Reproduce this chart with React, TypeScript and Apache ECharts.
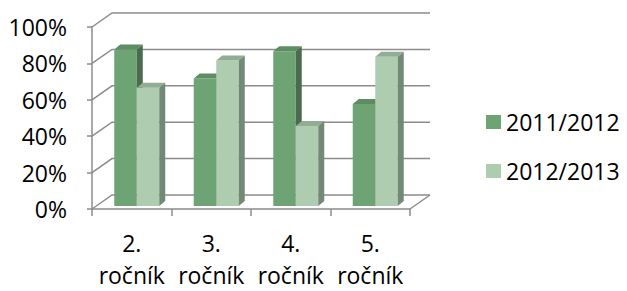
import React, { useEffect, useRef } from "react";
import * as echarts from "echarts";

const categories = ["2.\nročník", "3.\nročník", "4.\nročník", "5.\nročník"];
const seriesNames = ["2011/2012", "2012/2013"];
const values2011 = [0.86, 0.7, 0.85, 0.56];
const values2012 = [0.65, 0.8, 0.44, 0.82];
const yTicks = [0, 0.2, 0.4, 0.6, 0.8, 1];

const FONT = "'Open Sans', 'Liberation Sans', sans-serif";
const GRID_COLOR = "#8c8c8c";
const DEPTH_X = 20;
const DEPTH_Y = -14;

const palettes = [
  { front: "#6ea474", top: "#5e8d63", side: "#4a6b4d" },
  { front: "#aecdb0", top: "#91ad94", side: "#728975" },
];

function makeBarRenderer(idx: number) {
  const pal = palettes[idx];
  return (params: any, api: any) => {
    const ci = api.value(0);
    const v = api.value(1);
    const base = api.coord([ci, 0]);
    const top = api.coord([ci, v]);
    const band = api.size([1, 0])[0];
    const bw = band * 0.283;
    const sx = 5;
    const sy = -3;
    const dx = 6;
    const dy = -5;
    const x0 = idx === 0 ? base[0] + sx - bw : base[0] + sx;
    const y0 = base[1] + sy;
    const y1 = top[1] + sy;
    return {
      type: "group",
      children: [
        {
          type: "rect",
          shape: { x: x0, y: y1, width: bw, height: y0 - y1 },
          style: { fill: pal.front },
        },
        {
          type: "polygon",
          shape: {
            points: [
              [x0, y1],
              [x0 + bw, y1],
              [x0 + bw + dx, y1 + dy],
              [x0 + dx, y1 + dy],
            ],
          },
          style: { fill: pal.top },
        },
        {
          type: "polygon",
          shape: {
            points: [
              [x0 + bw, y1],
              [x0 + bw + dx, y1 + dy],
              [x0 + bw + dx, y0 + dy],
              [x0 + bw, y0],
            ],
          },
          style: { fill: pal.side },
        },
      ],
    };
  };
}

function renderWall(params: any, api: any) {
  const v = api.value(1);
  const p = api.coord([0, v]);
  const cs = params.coordSys;
  const xf = cs.x;
  const w = cs.width;
  const y = p[1];
  const style = { stroke: GRID_COLOR, lineWidth: 1.5, fill: null };
  const children: any[] = [
    {
      type: "polyline",
      shape: {
        points: [
          [xf, y],
          [xf + DEPTH_X, y + DEPTH_Y],
          [xf + w + DEPTH_X, y + DEPTH_Y],
        ],
      },
      style,
    },
  ];
  if (v === 0) {
    children.push({
      type: "line",
      shape: { x1: xf + w, y1: y, x2: xf + w + DEPTH_X, y2: y + DEPTH_Y },
      style,
    });
  }
  return { type: "group", children };
}

export default function App() {
  const ref = useRef<HTMLDivElement>(null);
  useEffect(() => {
    if (!ref.current) return;
    const chart = echarts.init(ref.current, null, { renderer: "svg" });
    chart.setOption({
      animation: false,
      backgroundColor: "#ffffff",
      textStyle: { fontFamily: FONT },
      grid: { left: 92, right: 217, top: 27, bottom: 79 },
      legend: {
        orient: "vertical",
        left: 486,
        top: 108,
        padding: 0,
        itemWidth: 15,
        itemHeight: 14,
        itemGap: 21,
        itemStyle: { borderWidth: 0 },
        icon: "rect",
        data: seriesNames,
        textStyle: {
          fontFamily: FONT,
          fontSize: 23,
          lineHeight: 28,
          color: "#000",
        },
        selectedMode: false,
      },
      xAxis: {
        type: "category",
        data: categories,
        boundaryGap: true,
        axisLine: { show: true, lineStyle: { color: GRID_COLOR, width: 1.5 } },
        axisTick: { show: true, length: 7, lineStyle: { color: GRID_COLOR, width: 1.5 } },
        axisLabel: {
          margin: 18,
          fontFamily: FONT,
          fontSize: 23,
          lineHeight: 32,
          color: "#000",
          interval: 0,
        },
        splitLine: { show: false },
      },
      yAxis: {
        type: "value",
        min: 0,
        max: 1,
        interval: 0.2,
        axisLine: { show: true, lineStyle: { color: GRID_COLOR, width: 1.5 } },
        axisTick: { show: true, length: 5, lineStyle: { color: GRID_COLOR, width: 1.5 } },
        axisLabel: {
          margin: 25,
          fontFamily: FONT,
          fontSize: 23,
          color: "#000",
          formatter: (val: number) => Math.round(val * 100) + "%",
        },
        splitLine: { show: false },
      },
      series: [
        {
          type: "custom",
          name: "wall",
          silent: true,
          z: 1,
          renderItem: renderWall,
          encode: { x: 0, y: 1 },
          data: yTicks.map((t) => [0, t]),
        },
        {
          type: "custom",
          name: seriesNames[0],
          z: 2,
          itemStyle: { color: palettes[0].front },
          renderItem: makeBarRenderer(0),
          encode: { x: 0, y: 1 },
          data: values2011.map((v, i) => [i, v]),
        },
        {
          type: "custom",
          name: seriesNames[1],
          z: 3,
          itemStyle: { color: palettes[1].front },
          renderItem: makeBarRenderer(1),
          encode: { x: 0, y: 1 },
          data: values2012.map((v, i) => [i, v]),
        },
      ],
    });
    return () => chart.dispose();
  }, []);
  return (
    <div
      ref={ref}
      style={{ position: "fixed", left: 0, top: 0, width: 627, height: 291 }}
    />
  );
}
